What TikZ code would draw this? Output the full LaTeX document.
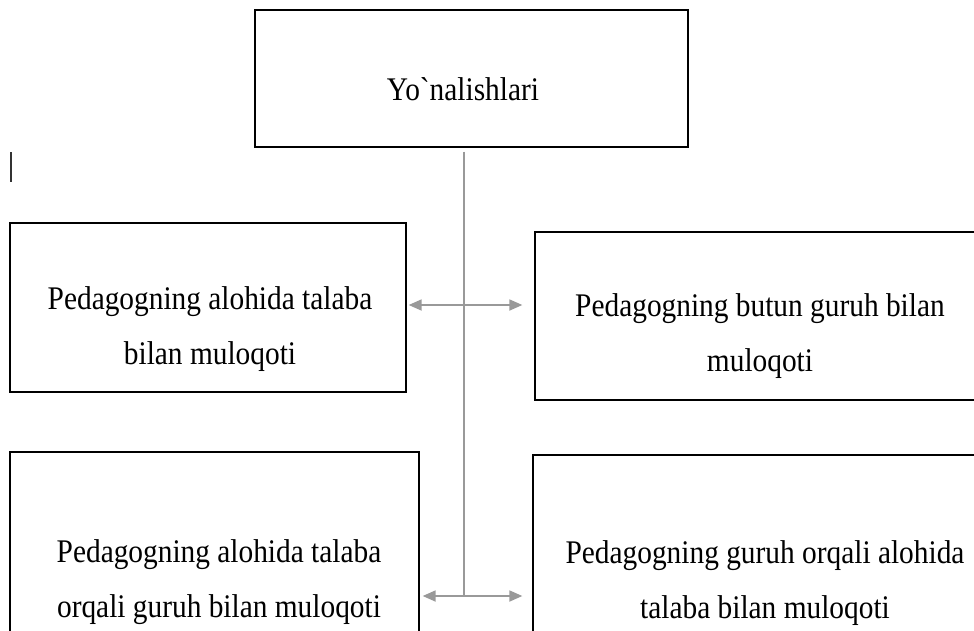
\documentclass[tikz,border=0pt]{standalone}
\usepackage{fontspec}
\newfontfamily\matnfont{Liberation Serif}[FakeStretch=0.89]
\usetikzlibrary{arrows.meta}

\begin{document}
\begin{tikzpicture}[x=1pt,y=-1pt,
      kotak/.style={draw=black,line width=1.3pt,inner sep=0pt},
      matn/.style={font=\matnfont\fontsize{33}{55}\selectfont,align=center,inner sep=0pt},
      chiziq/.style={draw=black!40,line width=1.8pt},
      panah/.style={chiziq,{Triangle[length=13pt,width=11pt]}-{Triangle[length=13pt,width=11pt]}}]
    \useasboundingbox (0,0) rectangle (974,630);
    % Yuqori blok
    \node[kotak,minimum width=433,minimum height=137] (yon) at (471.5,78.5) {};
    \node[matn] (tyon) at (463,89) {Yo`nalishlari};
    \draw[line width=1.5pt,black!80] (11,152) -- (11,182);
    % Birinchi qator
    \node[kotak,minimum width=396,minimum height=169] (kiri1) at (208,307.5) {};
    \node[matn] (tkiri1) at (210,329) {Pedagogning alohida talaba\\bilan muloqoti};
    \node[kotak,minimum width=455,minimum height=168] (ong1) at (762.5,316) {};
    \node[matn] (tong1) at (760,336) {Pedagogning butun guruh bilan\\muloqoti};
    % Ikkinchi qator
    \node[kotak,minimum width=409,minimum height=268] (kiri2) at (214.5,586) {};
    \node[matn] (tkiri2) at (219,582) {Pedagogning alohida talaba\\orqali guruh bilan muloqoti};
    \node[kotak,minimum width=462,minimum height=265] (ong2) at (764,587.5) {};
    \node[matn] (tong2) at (765,583) {Pedagogning guruh orqali alohida\\talaba bilan muloqoti};
    % Tutashtiruvchi chiziqlar
    \coordinate (j1) at (464,305);
    \coordinate (j2) at (464,596);
    \draw[chiziq] ([yshift=-4pt]yon.south -| j1) -- (j2);
    \draw[panah] ([xshift=2pt]kiri1.east |- j1) -- ([xshift=-12pt]ong1.west |- j1);
    \draw[panah] ([xshift=3pt]kiri2.east |- j2) -- ([xshift=-10pt]ong2.west |- j2);
  \end{tikzpicture}
\end{document}
